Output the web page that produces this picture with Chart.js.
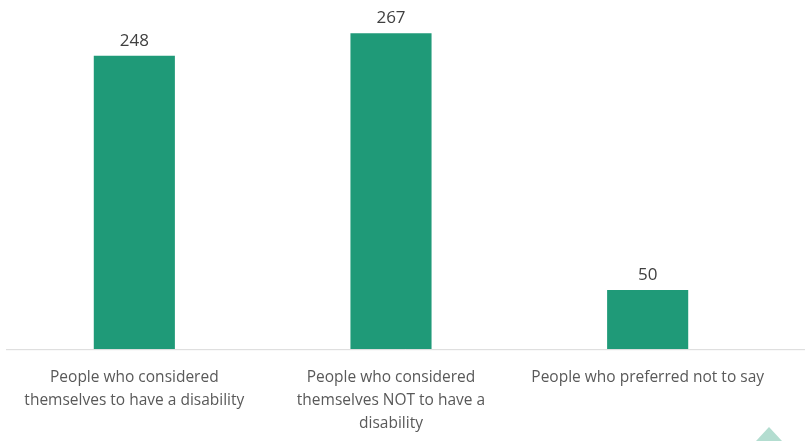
<!DOCTYPE html>
<html>
<head>
<meta charset="utf-8">
<script src="https://cdn.jsdelivr.net/npm/chart.js@4.4.0/dist/chart.umd.min.js"></script>
<style>
  html, body { margin: 0; padding: 0; background: #fff; }
  #wrap { width: 805px; height: 441px; position: relative; }
</style>
</head>
<body>
<div id="wrap"><canvas id="disability"></canvas></div>
<script>
const categories = [
  ['People who considered', 'themselves to have a disability'],
  ['People who considered', 'themselves NOT to have a', 'disability'],
  ['People who preferred not to say']
];
const counts = [248, 267, 50];

const barColor = '#1f9a78';

const ctx = document.getElementById('disability');
new Chart(ctx, {
  type: 'bar',
  data: {
    labels: categories,
    datasets: [{
      data: counts,
      backgroundColor: barColor,
      borderWidth: 0,
      categoryPercentage: 1,
      barPercentage: 0.316
    }]
  },
  options: {
    responsive: true,
    maintainAspectRatio: false,
    animation: false,
    layout: { padding: { left: 6, right: 29, top: 0, bottom: -11 } },
    plugins: {
      legend: { display: false },
      tooltip: { enabled: false }
    },
    scales: {
      x: {
        grid: { display: false, drawTicks: false, tickLength: 0 },
        border: { display: false },
        ticks: {
          autoSkip: false,
          maxRotation: 0,
          padding: 17,
          color: '#595959',
          font: { family: 'Open Sans', size: 15.5, lineHeight: 1.48 }
        }
      },
      y: {
        display: false,
        min: 0,
        max: 295
      }
    }
  },
  plugins: [{
    id: 'valueLabels',
    afterDatasetsDraw: (chart) => {
      const { ctx, chartArea } = chart;
      ctx.save();
      // axis line
      ctx.strokeStyle = '#d9d9d9';
      ctx.lineWidth = 1;
      ctx.beginPath();
      ctx.moveTo(chartArea.left, chartArea.bottom + 0.5);
      ctx.lineTo(chart.width, chartArea.bottom + 0.5);
      ctx.stroke();
      // numbers above bars
      ctx.font = '17px "Open Sans"';
      ctx.fillStyle = '#404040';
      ctx.textAlign = 'center';
      ctx.textBaseline = 'alphabetic';
      chart.getDatasetMeta(0).data.forEach((bar, i) => {
        ctx.fillText(counts[i], bar.x, bar.y - 10);
      });
      // little triangle in the corner
      ctx.fillStyle = '#b3ddd0';
      ctx.beginPath();
      ctx.moveTo(756, 441);
      ctx.lineTo(769, 427);
      ctx.lineTo(782, 441);
      ctx.closePath();
      ctx.fill();
      ctx.restore();
    }
  }]
});
</script>
</body>
</html>
